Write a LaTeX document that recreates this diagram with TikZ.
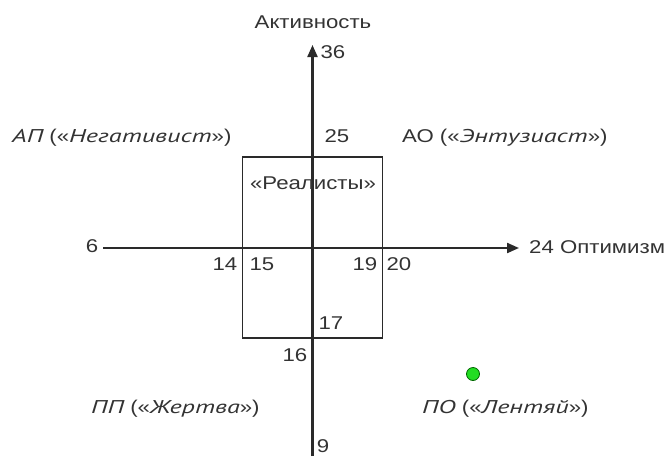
\documentclass[tikz,border=0pt]{standalone}
\usepackage{fontspec}
\setmainfont{Liberation Sans}[FakeStretch=1.2]
\newfontfamily\itf{PT Sans}[FakeStretch=1.42]
\usetikzlibrary{arrows.meta}
\definecolor{txtc}{HTML}{333333}
\definecolor{linec}{HTML}{2A2A2A}
\definecolor{dotg}{HTML}{22DD22}
\newcommand\ital[1]{{\itf\itshape #1}}
\begin{document}
\begin{tikzpicture}[x=1pt,y=-1pt,
  txt/.style={inner sep=0pt, text height=13.2pt, text depth=0pt, font=\fontsize{18.5}{22}\selectfont, text=txtc},
  axis/.style={draw=linec, line width=2.2pt, -{Triangle[length=12pt,width=10pt]}},
  boxst/.style={draw=linec, line width=1.6pt, minimum width=140pt, minimum height=181pt, inner sep=0pt}]
\useasboundingbox (0,0) rectangle (670,456);
% box
\node[boxst] (box) at (312.5,247.5) {};
% axes
\coordinate (xs) at (103,248);
\coordinate (xe) at (519,248);
\coordinate (ys) at (312.5,456);
\coordinate (ye) at (312.5,45);
\draw[axis] (xs) -- (xe);
\draw[axis] (ys) -- (ye);
% labels
\node[txt] (akt) at (313,22) {Активность};
\node[txt] (n36) at (333,52) {36};
\node[txt] (n25) at (337,136) {25};
\node[txt, anchor=west] (ap) at (12,136) {\ital{АП} («\ital{Негативист}»)};
\node[txt, anchor=west] (ao) at (402,136) {АО («\ital{Энтузиаст}»)};
\node[txt] (real) at (313,183) {«Реалисты»};
\node[txt] (n6) at (92,246) {6};
\node[txt, anchor=west] (opt) at (529,247) {24 Оптимизм};
\node[txt] (n14) at (225,264) {14};
\node[txt] (n15) at (262,264) {15};
\node[txt] (n19) at (365,264) {19};
\node[txt] (n20) at (399,264) {20};
\node[txt] (n17) at (331,323) {17};
\node[txt] (n16) at (295,355) {16};
\node[txt, anchor=west] (pp) at (91,407) {\ital{ПП} («\ital{Жертва}»)};
\node[txt, anchor=west] (po) at (422,407) {\ital{ПО} («\ital{Лентяй}»)};
\node[txt] (n9) at (323,446) {9};
% dot
\node[circle, fill=dotg, draw=green!40!black, line width=0.8pt, minimum size=13pt, inner sep=0pt] (dot) at (473,374) {};
\end{tikzpicture}
\end{document}
